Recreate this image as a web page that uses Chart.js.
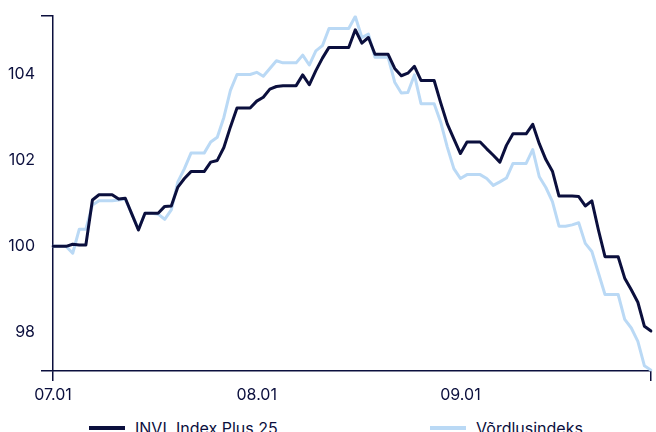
<!DOCTYPE html>
<html>
<head>
<meta charset="utf-8">
<script src="https://cdn.jsdelivr.net/npm/chart.js@4.4.1/dist/chart.umd.min.js"></script>
<style>
  body { margin: 0; background: #fff; font-family: Inter, "Noto Sans", sans-serif; color: #0b0f3d; }
  #wrap { position: relative; width: 656px; height: 432px; }
  #chart-box { position: absolute; left: 0; top: 0; width: 656px; height: 405px; }
  .legend-item { position: absolute; top: 418px; display: flex; align-items: center; font-size: 16px; }
  .legend-item span.swatch { display: inline-block; width: 36px; height: 4px; margin-right: 10px; }
</style>
</head>
<body>
<div id="wrap">
  <div id="chart-box"><canvas id="indexChart"></canvas></div>
  <div class="legend-item" id="legend-fund" style="left:89px"><span class="swatch"></span><span class="txt"></span></div>
  <div class="legend-item" id="legend-bench" style="left:430px"><span class="swatch"></span><span class="txt"></span></div>
</div>
<script>
// one point per calendar day, 1 July .. 30 September (weekends repeat Friday's value)
const months = ["07", "08", "09"];
const monthDays = [31, 31, 30];
const seriesNames = ["INVL Index Plus 25", "Võrdlusindeks"];
const yTicks = [98, 100, 102, 104];
const yMin = 97.1;
const yMax = 105.37;

const fundValues = [
  100, 100, 100, 100.05, 100.03, 100.03, 101.08, 101.2, 101.2, 101.2,
  101.1, 101.12, 100.75, 100.38, 100.77, 100.77, 100.77, 100.93, 100.94, 101.38,
  101.58, 101.74, 101.74, 101.74, 101.96, 102.0, 102.3, 102.78, 103.22, 103.22,
  103.22, 103.38, 103.47, 103.66, 103.72, 103.74, 103.74, 103.74, 103.99, 103.76,
  104.09, 104.38, 104.63, 104.63, 104.63, 104.63, 105.04, 104.73, 104.86, 104.47,
  104.47, 104.47, 104.14, 103.97, 104.03, 104.19, 103.86, 103.86, 103.86, 103.34,
  102.85, 102.5, 102.16, 102.43, 102.43, 102.43, 102.27, 102.12, 101.96, 102.35,
  102.62, 102.62, 102.62, 102.84, 102.39, 102.02, 101.75, 101.17, 101.17, 101.17,
  101.16, 100.94, 101.06, 100.38, 99.76, 99.76, 99.76, 99.26, 98.99, 98.7,
  98.14, 98.03
];

const benchValues = [
  100, 100, 100, 99.84, 100.4, 100.4, 100.96, 101.06, 101.06, 101.06,
  101.08, 101.1, 100.75, 100.4, 100.77, 100.77, 100.75, 100.63, 100.85, 101.5,
  101.81, 102.17, 102.17, 102.17, 102.43, 102.54, 103.0, 103.63, 104.0, 104.0,
  104.0, 104.05, 103.96, 104.14, 104.32, 104.27, 104.27, 104.27, 104.45, 104.22,
  104.55, 104.67, 105.07, 105.07, 105.07, 105.07, 105.35, 104.86, 104.94, 104.4,
  104.4, 104.4, 103.82, 103.57, 103.58, 103.99, 103.32, 103.32, 103.32, 102.89,
  102.31, 101.81, 101.58, 101.67, 101.67, 101.67, 101.58, 101.42, 101.5, 101.59,
  101.93, 101.93, 101.93, 102.25, 101.62, 101.37, 101.04, 100.47, 100.47, 100.5,
  100.55, 100.07, 99.88, 99.38, 98.88, 98.88, 98.88, 98.3, 98.1, 97.79,
  97.22, 97.12
];

const navy = "#0b0f3d";
const lightBlue = "#bad9f5";

const labels = [];
months.forEach((m, k) => {
  for (let d = 1; d <= monthDays[k]; d++) labels.push(m + "." + String(d).padStart(2, "0"));
});

// html legend
[["legend-fund", navy, seriesNames[0]], ["legend-bench", lightBlue, seriesNames[1]]].forEach(([id, col, name]) => {
  const el = document.getElementById(id);
  el.querySelector(".swatch").style.background = col;
  el.querySelector(".txt").textContent = name;
});

const tickFont = { family: "Inter, 'Noto Sans', sans-serif", size: 16 };

new Chart(document.getElementById("indexChart").getContext("2d"), {
  type: "line",
  data: {
    labels: labels,
    datasets: [
      { label: seriesNames[0], data: fundValues, borderColor: navy, borderWidth: 3 },
      { label: seriesNames[1], data: benchValues, borderColor: lightBlue, borderWidth: 3 }
    ]
  },
  options: {
    responsive: true,
    maintainAspectRatio: false,
    animation: false,
    layout: { padding: { top: 15, right: 0, left: 0, bottom: 0 } },
    elements: {
      point: { radius: 0 },
      line: { tension: 0, borderJoinStyle: "round", borderCapStyle: "round" }
    },
    plugins: { legend: { display: false }, tooltip: { enabled: false } },
    scales: {
      x: {
        type: "category",
        border: { color: navy, width: 1.5 },
        grid: {
          drawOnChartArea: false,
          tickLength: 10,
          lineWidth: 1.5,
          color: ctx => (ctx.index === 0 || ctx.index === labels.length - 1) ? navy : "rgba(0,0,0,0)"
        },
        ticks: {
          autoSkip: false,
          maxRotation: 0,
          padding: 5,
          color: navy,
          font: tickFont,
          callback: function (val, i) {
            const l = labels[i];
            return l.endsWith(".01") ? l : "";
          }
        },
        afterFit: scale => { scale.height = 34; }
      },
      y: {
        min: yMin,
        max: yMax,
        border: { color: navy, width: 1.5 },
        grid: {
          drawOnChartArea: false,
          tickLength: 12,
          lineWidth: 1.5,
          color: ctx => (ctx.tick && yTicks.includes(ctx.tick.value)) ? "rgba(0,0,0,0)" : navy
        },
        afterBuildTicks: scale => {
          scale.ticks = [yMin].concat(yTicks, [yMax]).map(v => ({ value: v }));
        },
        ticks: {
          padding: 6,
          color: navy,
          font: tickFont,
          callback: v => yTicks.includes(v) ? String(v) : ""
        },
        afterFit: scale => { scale.width = 53; }
      }
    }
  }
});
</script>
</body>
</html>
